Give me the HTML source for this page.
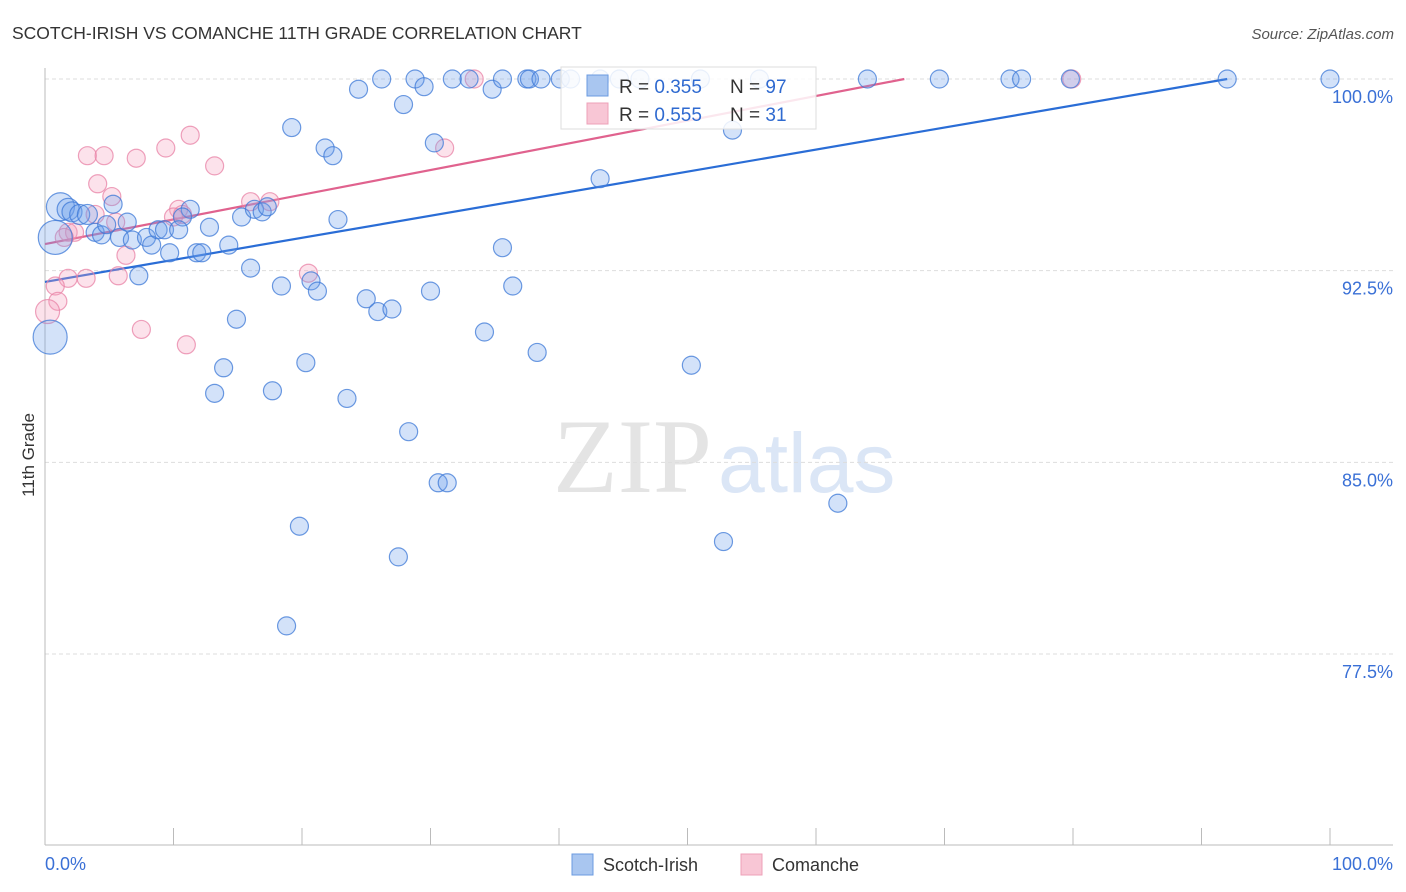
<!DOCTYPE html>
<html><head><meta charset="utf-8"><style>
body{margin:0;background:#fff;}
svg{display:block;font-family:"Liberation Sans",sans-serif;}
</style></head><body>
<svg id="chart" width="1406" height="892" viewBox="0 0 1406 892">
<text x="12" y="39" font-size="17.5" fill="#333">SCOTCH-IRISH VS COMANCHE 11TH GRADE CORRELATION CHART</text>
<text x="1394" y="39" font-size="15" fill="#555" font-style="italic" text-anchor="end">Source: ZipAtlas.com</text>
<g>
<text x="553" y="492" font-family="Liberation Serif,serif" font-size="106" fill="#e4e4e4">ZIP</text>
<text x="718" y="492" font-size="84" fill="#dbe6f6">atlas</text>
</g>
<g id="grid"></g>
<g id="axes"></g>
<text transform="translate(34,455) rotate(-90)" font-size="17" fill="#333" text-anchor="middle">11th Grade</text>
<g id="lines"></g>
<g id="points"></g>
<g>
<rect x="561" y="67" width="255" height="62" fill="#fff" fill-opacity="0.85" stroke="#ddd"/>
<rect x="587" y="75" width="21" height="21" fill="#a9c6f0" stroke="#6b9be0"/>
<rect x="587" y="103" width="21" height="21" fill="#f8c6d5" stroke="#eea0b8"/>
<text x="619" y="93" font-size="19" fill="#333">R = <tspan fill="#2f6ad0">0.355</tspan></text>
<text x="730" y="93" font-size="19" fill="#333">N = <tspan fill="#2f6ad0">97</tspan></text>
<text x="619" y="121" font-size="19" fill="#333">R = <tspan fill="#2f6ad0">0.555</tspan></text>
<text x="730" y="121" font-size="19" fill="#333">N = <tspan fill="#2f6ad0"> 31</tspan></text>
</g>
<g>
<rect x="572" y="854" width="21" height="21" fill="#a9c6f0" stroke="#6b9be0"/>
<text x="603" y="871" font-size="18" fill="#333">Scotch-Irish</text>
<rect x="741" y="854" width="21" height="21" fill="#f8c6d5" stroke="#eea0b8"/>
<text x="772" y="871" font-size="18" fill="#333">Comanche</text>
</g>
</svg>
<script>
const yTicks=[100,92.5,85,77.5];
const yTickLabels=["100.0%","92.5%","85.0%","77.5%"];
const xTickCount=10;
const xLabels=["0.0%","100.0%"];
const blueX=[26.2,28.8,29.5,31.7,33.0,34.8,35.6,37.5,37.7,38.6,40.1,40.9,43.2,44.7,46.3,51.0,55.6,24.4,27.9,19.2,21.8,22.4,30.3,43.2,53.5,64.0,69.6,75.1,76.0,79.8,92.0,100,1.2,1.8,2.1,2.7,3.3,5.3,11.3,10.7,15.3,16.3,16.9,17.3,22.8,35.6,3.9,4.4,4.8,5.8,6.4,6.8,7.9,8.3,8.8,9.3,9.7,10.4,11.8,12.2,12.8,14.3,16.0,7.3,18.4,20.7,21.2,25.0,25.9,27.0,30.0,36.4,14.9,34.2,20.3,38.3,13.9,13.2,17.7,23.5,50.3,28.3,30.6,31.3,19.8,61.7,52.8,27.5,18.8,0.8,0.4];
const blueY=[100,100,99.7,100,100,99.6,100,100,100,100,100,100,100,100,100,100,100,99.6,99.0,98.1,97.3,97.0,97.5,96.1,98.0,100,100,100,100,100,100,100,95.0,94.9,94.8,94.7,94.7,95.1,94.9,94.6,94.6,94.9,94.8,95.0,94.5,93.4,94.0,93.9,94.3,93.8,94.4,93.7,93.8,93.5,94.1,94.1,93.2,94.1,93.2,93.2,94.2,93.5,92.6,92.3,91.9,92.1,91.7,91.4,90.9,91.0,91.7,91.9,90.6,90.1,88.9,89.3,88.7,87.7,87.8,87.5,88.8,86.2,84.2,84.2,82.5,83.4,81.9,81.3,78.6,93.8,89.9];
const blueSize=[9,9,9,9,9,9,9,9,9,9,9,9,9,9,9,9,9,9,9,9,9,9,9,9,9,9,9,9,9,9,9,9,14,11,10,10,10,9,9,9,9,9,9,9,9,9,9,9,9,9,9,9,9,9,9,9,9,9,9,9,9,9,9,9,9,9,9,9,9,9,9,9,9,9,9,9,9,9,9,9,9,9,9,9,9,9,9,9,9,17,17];
const pinkX=[3.3,4.6,7.1,9.4,11.3,13.2,4.1,5.2,5.5,1.8,2.3,1.5,3.9,10.4,10.7,10.0,16.0,17.5,6.3,5.7,1.8,3.2,0.8,1.0,0.2,7.5,11.0,20.5,31.1,33.4,79.9];
const pinkY=[97.0,97.0,96.9,97.3,97.8,96.6,95.9,95.4,94.4,94.0,94.0,93.8,94.7,94.9,94.7,94.6,95.2,95.2,93.1,92.3,92.2,92.2,91.9,91.3,90.9,90.2,89.6,92.4,97.3,100,100];
const pinkSize=[9,9,9,9,9,9,9,9,9,9,9,9,9,9,9,9,9,9,9,9,9,9,9,9,12,9,9,9,9,9,9];
const blueTrend=[92.06,0.0863];
const pinkTrend=[93.54,0.0966];

const NS="http://www.w3.org/2000/svg";
const X0=45,X1=1330,Y100=79,PXPER=191.67/7.5;
function sx(v){return X0+(X1-X0)*v/100;}
function sy(v){return Y100+(100-v)*PXPER;}
function mk(tag,attrs,parent){const e=document.createElementNS(NS,tag);for(const k in attrs)e.setAttribute(k,attrs[k]);parent.appendChild(e);return e;}
const grid=document.getElementById('grid'),axes=document.getElementById('axes');
yTicks.forEach((t,i)=>{
  const l=mk('line',{x1:45,x2:1393,y1:sy(t),y2:sy(t),stroke:'#ddd','stroke-dasharray':'4,3'},grid);
  
  
  const tx=mk('text',{x:1393,y:sy(t)+24,'font-size':18,fill:'#3a70d6','text-anchor':'end'},axes);
  tx.textContent=yTickLabels[i];
  
  
});
const ax=mk('line',{x1:45,x2:45,y1:68,y2:845,stroke:'#bbb'},axes);


const bx=mk('line',{x1:45,x2:1393,y1:845,y2:845,stroke:'#bbb'},axes);


for(let i=0;i<=xTickCount;i++){
  const t=mk('line',{x1:sx(i*10),x2:sx(i*10),y1:828,y2:845,stroke:'#bbb'},axes);
  
  
}
const xl0=mk('text',{x:45,y:870,'font-size':18,fill:'#3a70d6'},axes);xl0.textContent=xLabels[0];


const xl1=mk('text',{x:1393,y:870,'font-size':18,fill:'#3a70d6','text-anchor':'end'},axes);xl1.textContent=xLabels[1];



const pts=document.getElementById('points');
function drawSeries(xs,ys,ss,fill,stroke,name){
  xs.forEach((x,i)=>{
    const c=mk('circle',{cx:sx(x),cy:sy(ys[i]),r:ss[i],fill:fill,stroke:stroke,'stroke-width':1.2},pts);
    
    
  });
}
drawSeries(pinkX,pinkY,pinkSize,'rgba(244,160,188,0.3)','rgba(232,130,165,0.75)','comanche-point');
drawSeries(blueX,blueY,blueSize,'rgba(110,160,235,0.3)','rgba(60,120,215,0.75)','scotch-irish-point');

const lines=document.getElementById('lines');
function trend(tr,color,name){
  const xEnd=Math.min(100,(100-tr[0])/tr[1]);
  const l=mk('line',{x1:sx(0),y1:sy(tr[0]),x2:sx(xEnd),y2:sy(tr[0]+tr[1]*xEnd),stroke:color,'stroke-width':2.2},lines);
  
  
}
trend(blueTrend,'#2a6dd6','scotch-irish-trendline');
trend(pinkTrend,'#e0628e','comanche-trendline');
</script>
</body></html>
